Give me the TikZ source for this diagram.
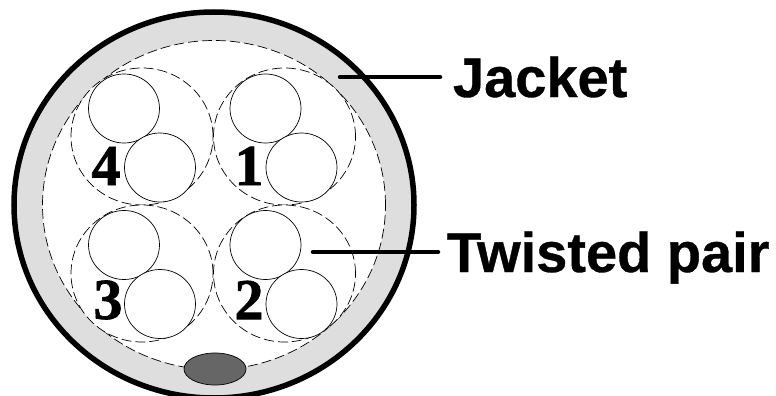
\documentclass[tikz,border=0pt]{standalone}
\usepackage{fontspec}
\setmainfont{Liberation Serif}[BoldFeatures={FakeBold=1.2}]
\newfontfamily\labelfont{Liberation Sans}[BoldFeatures={FakeBold=0.6}]
\usetikzlibrary{shapes.geometric, positioning}
\definecolor{ringgray}{HTML}{DEDEDE}
\definecolor{draingray}{HTML}{666666}
\begin{document}
\begin{tikzpicture}[x=1pt, y=-1pt, thick,
        every node/.style={inner sep=0pt, outer sep=0pt},
        ring/.style={ellipse, draw=black, fill=ringgray, line width=5.5pt, minimum width=400pt, minimum height=386pt},
        core/.style={ellipse, draw=black, fill=white, line width=0.7pt, dash pattern=on 10pt off 4pt, minimum width=343pt, minimum height=329pt},
        pair/.style={ellipse, draw=black, fill=white, line width=0.7pt, dash pattern=on 10pt off 4pt, minimum width=142pt, minimum height=137pt},
        wire/.style={ellipse, draw=black, fill=white, line width=0.7pt, minimum width=71pt, minimum height=69pt},
        drain/.style={ellipse, draw=black, fill=draingray, line width=0.7pt, minimum width=62pt, minimum height=32pt},
        num/.style={font=\fontsize{58}{60}\selectfont\bfseries},
        partlabel/.style={font=\fontsize{56}{60}\selectfont\labelfont\bfseries, text height=40pt, text depth=0pt},
        leader/.style={line width=4.5pt, line cap=round}]
    \useasboundingbox (0,0) rectangle (776,396);
    \node[ring] (jacket) at (214,205) {};
    \node[core] (core) at (214,205) {};
    \node[pair] (p4) at (142,136.5) {};
    \node[pair] (p1) at (284.5,136.5) {};
    \node[pair] (p3) at (142,273.5) {};
    \node[pair] (p2) at (284.5,273.5) {};
    \node[wire] (w4a) at (124,108.5) {};
    \node[wire] (w4b) at (160,167.5) {};
    \node[wire] (w1a) at (265.5,108.5) {};
    \node[wire] (w1b) at (301.5,167.5) {};
    \node[wire] (w3a) at (124,245) {};
    \node[wire] (w3b) at (160,304) {};
    \node[wire] (w2a) at (265.5,245) {};
    \node[wire] (w2b) at (301.5,304) {};
    \node[drain] (dr) at (215,369) {};
    \node[num] (n4) at (106,166) {4};
    \node[num] (n1) at (249,166) {1};
    \node[num] (n3) at (108,300) {3};
    \node[num] (n2) at (249,300) {2};

    \coordinate (jend) at (340,77);
    \coordinate (tend) at (313,252);
    \node[partlabel, inner xsep=13pt, right=100pt of jend] (jlabel) {Jacket};
    \node[partlabel, inner xsep=9pt, right=125pt of tend] (tlabel) {Twisted pair};
    \draw[leader] (jend) -- (jlabel);
    \draw[leader] (tend) -- (tlabel);
\end{tikzpicture}
\end{document}
